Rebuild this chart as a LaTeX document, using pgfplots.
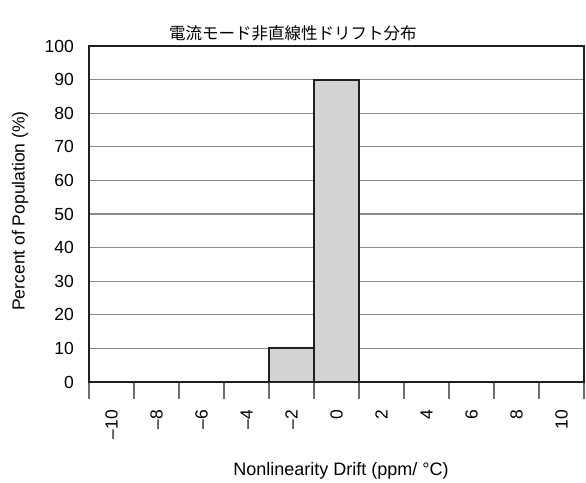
\documentclass[border=0pt]{standalone}
\usepackage{pgfplots}
\pgfplotsset{compat=1.18}
\usepackage{fontspec}
\setmainfont{Liberation Sans}
\newfontfamily\cjk{Noto Sans CJK JP}
\definecolor{barfill}{HTML}{D3D3D3}
\definecolor{edge}{HTML}{231F20}
\definecolor{gridgray}{HTML}{8A8A8A}
\definecolor{tickgray}{HTML}{6E6E6E}

\begin{document}
\begin{tikzpicture}
\useasboundingbox (-89pt,-100pt) rectangle (497pt,382pt);
\begin{axis}[
  at={(0,0)}, anchor=south west,
  scale only axis, width=495pt, height=336pt,
  xmin=-11, xmax=11, ymin=0, ymax=100,
  axis line style={edge, line width=2pt},
  xtick={-10,-8,...,10},
  xticklabels={\textendash10,\textendash8,\textendash6,\textendash4,\textendash2,0,2,4,6,8,10},
  minor xtick={-11,-9,...,11},
  ytick={0,10,...,100},
  xtick pos=bottom, ytick pos=left,
  major tick length=0pt,
  minor tick length=17pt,
  tick align=outside,
  minor tick style={tickgray, line width=1.2pt},
  ymajorgrids, grid style={gridgray, line width=1.3pt},
  /pgf/number format/assume math mode=true,
  tick label style={font=\fontsize{17.5}{20}\selectfont},
  xticklabel style={rotate=90, anchor=east, inner sep=0pt},
  xticklabel shift=28pt,
  yticklabel style={anchor=east, inner sep=0pt},
  yticklabel shift=15pt,
  every axis x label/.style={at={(axis description cs:0.509,-0.2649)}, anchor=center, font=\fontsize{18}{21}\selectfont},
  every axis y label/.style={at={(axis description cs:-0.1394,0.509)}, anchor=center, rotate=90, font=\fontsize{17.5}{20}\selectfont},
  every axis title/.style={at={(axis description cs:0.4121,1.0387)}, anchor=center, font=\cjk\fontsize{16.5}{18}\selectfont},
  title={電流モード非直線性ドリフト分布},
  xlabel={Nonlinearity Drift (ppm/ °C)},
  ylabel={Percent of Population (\%)},
]
% histogram bins of width 2, centred on the even drift values
\addplot[ybar, bar width=2, bar shift=0pt, fill=barfill, draw=edge, line width=2pt]
  coordinates {(-10,0) (-8,0) (-6,0) (-4,0) (-2,10) (0,90) (2,0) (4,0) (6,0) (8,0) (10,0)};
\end{axis}
\end{tikzpicture}
\end{document}
